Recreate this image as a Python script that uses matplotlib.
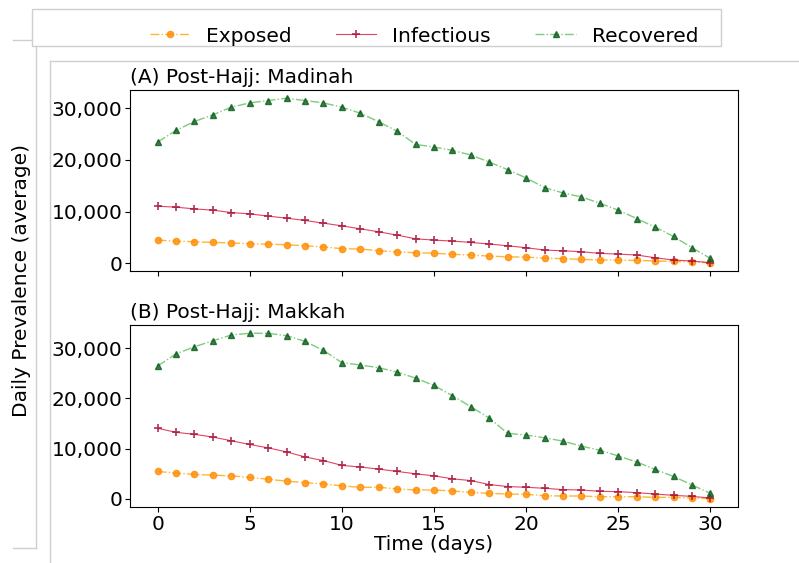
import numpy as np
import matplotlib
matplotlib.use('Agg')
from matplotlib import pyplot as plt
from matplotlib.lines import Line2D
from matplotlib.patches import Rectangle
from matplotlib.ticker import FuncFormatter

days = list(range(31))

# (A) Post-Hajj: Madinah
exposed_a = [4450, 4250, 4130, 4000, 3900, 3750, 3650, 3550, 3350, 3100, 2800, 2700, 2400, 2150, 2000, 1900,
             1700, 1550, 1350, 1200, 1150, 950, 850, 700, 600, 550, 500, 400, 300, 200, 50]
infectious_a = [11030, 10840, 10510, 10260, 9800, 9540, 9100, 8710, 8260, 7740, 7220, 6640, 6060, 5420, 4700, 4450,
                4260, 4000, 3680, 3350, 2970, 2520, 2380, 2190, 1870, 1740, 1550, 1030, 580, 390, 60]
recovered_a = [23470, 25740, 27480, 28770, 30250, 31090, 31540, 31990, 31540, 31090, 30250, 29090, 27410, 25600,
               23030, 22510, 21870, 20960, 19600, 18120, 16510, 14640, 13610, 12830, 11610, 10260, 8640, 6970,
               5160, 2970, 900]

# (B) Post-Hajj: Makkah
exposed_b = [5430, 5100, 4830, 4700, 4560, 4230, 3890, 3490, 3220, 2950, 2550, 2280, 2280, 1950, 1740, 1740,
             1540, 1270, 1070, 940, 870, 600, 540, 540, 400, 400, 400, 270, 270, 140, 0]
infectious_b = [14030, 13220, 12820, 12280, 11540, 10800, 10130, 9320, 8320, 7590, 6640, 6310, 5900, 5430, 4970,
                4560, 3960, 3620, 2820, 2420, 2280, 2080, 1810, 1740, 1470, 1410, 1210, 940, 670, 470, 140]
recovered_b = [26430, 28850, 30260, 31460, 32610, 32950, 32950, 32470, 31340, 29530, 27110, 26630, 26100, 25220,
               24020, 22550, 20530, 18320, 16040, 13020, 12680, 12140, 11470, 10470, 9660, 8520, 7320, 5840,
               4430, 2750, 1070]

panels = [('(A) Post-Hajj: Madinah', exposed_a, infectious_a, recovered_a),
          ('(B) Post-Hajj: Makkah', exposed_b, infectious_b, recovered_b)]

W, H = 799, 563
fs = 14.5
fig = plt.figure(figsize=(W / 100, H / 100), dpi=100)
plt.rcParams['font.family'] = ['DejaVu Sans']

def px(x0, y0, x1, y1):
    # figure rect from pixel box
    return [x0 / W, 1 - y1 / H, (x1 - x0) / W, (y1 - y0) / H]

ax1 = fig.add_axes(px(130, 90, 738, 271))
ax2 = fig.add_axes(px(130, 325, 738, 507), sharex=ax1)

fmt = FuncFormatter(lambda v, p: '{:,.0f}'.format(v))

for ax, (title, e, i, r) in zip([ax1, ax2], panels):
    ax.plot(days, e, color='orange', ls='-.', lw=1, alpha=0.8, marker='o', ms=4.5,
            mfc='darkorange', mec='darkorange', label='Exposed')
    ax.plot(days, i, color='crimson', ls='-', lw=0.8, alpha=0.8, marker='+', ms=6,
            mew=1.3, mec='#a0103a', label='Infectious')
    ax.plot(days, r, color='#5cbf5c', ls='-.', lw=1, alpha=0.8, marker='^', ms=4.5,
            mfc='#0b5e1b', mec='#0b5e1b', label='Recovered')
    ax.set_title(title, loc='left', fontsize=fs, pad=5)
    ax.yaxis.set_major_formatter(fmt)
    ax.set_yticks([0, 10000, 20000, 30000])
    ax.tick_params(labelsize=fs, pad=2)

plt.setp(ax1.get_xticklabels(), visible=False)
ax2.set_xticks([0, 5, 10, 15, 20, 25, 30])
ax2.set_xlabel('Time (days)', fontsize=fs, labelpad=1)
fig.text(22 / W, 1 - 280 / H, 'Daily Prevalence (average)', rotation=90, ha='center', va='center', fontsize=fs)

handles, labels = ax1.get_legend_handles_labels()
fig.legend(handles, labels, loc='center', bbox_to_anchor=(424 / W, 1 - 36 / H), ncol=3, frameon=False,
           fontsize=fs, columnspacing=2.2, handlelength=2.0, handletextpad=0.8)

# light frames around the pasted panels
gray = '#cfcfcf'
fig.add_artist(Rectangle((32 / W, 1 - 46 / H), (721 - 32) / W, 37 / H, transform=fig.transFigure,
                         fill=False, ec=gray, lw=1))
for (x0, y0, x1, y1) in [(13, 40, 32, 40), (36, 46, 36, 548), (13, 548, 36, 548),
                         (50, 61, 50, 563), (50, 61, 799, 61)]:
    fig.add_artist(Line2D([x0 / W, x1 / W], [1 - y0 / H, 1 - y1 / H], transform=fig.transFigure,
                          color=gray, lw=1))

fig.savefig('out.png', dpi=100)
